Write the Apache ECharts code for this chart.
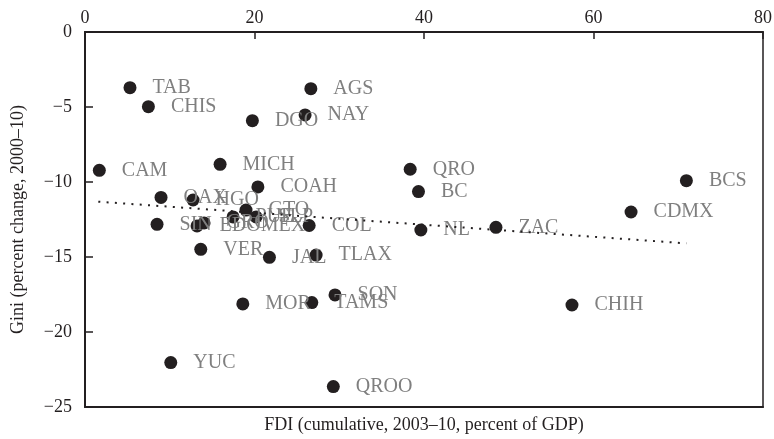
<!DOCTYPE html>
<html>
<head>
<meta charset="utf-8">
<script src="https://cdn.jsdelivr.net/npm/echarts@6/dist/echarts.min.js"></script>
<style>html,body{margin:0;padding:0;background:#fff}#c{width:774px;height:439px}</style>
</head>
<body>
<div id="c"></div>
<script>
var states = ['TAB','CHIS','AGS','NAY','DGO','CAM','MICH','COAH','OAX','HGO','SIN','EDOMEX','GRO','PUE','GTO','SLP','COL','VER','JAL','TLAX','QRO','BC','BCS','CDMX','NL','ZAC','MOR','TAMS','SON','YUC','QROO','CHIH'];
var fdi = [5.31,7.48,26.65,25.97,19.75,1.69,15.94,20.4,8.97,12.75,8.5,13.22,14.05,17.47,19.0,20.19,26.45,13.66,21.76,27.27,38.37,39.35,70.96,64.43,39.63,48.49,18.62,26.76,29.5,10.12,29.3,57.46];
var gini = [-3.71,-4.98,-3.78,-5.53,-5.91,-9.22,-8.82,-10.33,-11.03,-11.2,-12.82,-12.93,-12.73,-12.33,-11.87,-12.33,-12.9,-14.49,-15.02,-14.87,-9.15,-10.64,-9.91,-12.0,-13.2,-13.02,-18.13,-18.04,-17.53,-22.04,-23.64,-18.2];
var trendX = [1.57, 70.96];
var trendY = [-11.31, -14.09];
var xTicks = [0, 20, 40, 60, 80];
var yTicks = [0, -5, -10, -15, -20, -25];

var pts = states.map(function(s, i){ return {name: s, value: [fdi[i], gini[i]]}; });
var trend = trendX.map(function(x, i){ return [x, trendY[i]]; });

var serif = 'Liberation Serif';
var chart = echarts.init(document.getElementById('c'));
chart.setOption({
  animation: false,
  grid: {left: 85, top: 32, right: 11, bottom: 32, containLabel: false, outerBoundsMode: 'none',
    show: true, borderColor: '#231f20', borderWidth: 1.5},
  xAxis: [{
    type: 'value', position: 'top', min: 0, max: 80, interval: 20,
    axisLine: {show: true, lineStyle: {color: '#231f20', width: 2}},
    axisTick: {show: true, inside: true, length: 7, lineStyle: {color: '#231f20', width: 1.5}},
    axisLabel: {fontFamily: serif, fontSize: 18, color: '#231f20', margin: 5},
    splitLine: {show: false}
  }, {
    type: 'value', position: 'bottom', min: 0, max: 80, interval: 20,
    name: 'FDI (cumulative, 2003\u201310, percent of GDP)', nameLocation: 'middle', nameGap: 9,
    nameTextStyle: {fontFamily: serif, fontSize: 18, color: '#231f20'},
    axisLine: {show: true, lineStyle: {color: '#231f20', width: 2}},
    axisTick: {show: false}, axisLabel: {show: false}, splitLine: {show: false}
  }],
  yAxis: {
    type: 'value', min: -25, max: 0, interval: 5,
    name: 'Gini (percent change, 2000\u201310)', nameLocation: 'middle', nameGap: 58, nameRotate: 90,
    nameTextStyle: {fontFamily: serif, fontSize: 18, color: '#231f20'},
    axisLine: {show: true, lineStyle: {color: '#231f20', width: 2}},
    axisTick: {show: true, inside: true, length: 8, lineStyle: {color: '#231f20', width: 1.5}},
    axisLabel: {fontFamily: serif, fontSize: 18, color: '#231f20', margin: 13,
      formatter: function(v){ return v < 0 ? '\u2212' + Math.abs(v) : String(v); }},
    splitLine: {show: false}
  },
  series: [{
    type: 'line', data: trend, symbol: 'none', silent: true,
    lineStyle: {color: '#231f20', width: 2, type: [2, 6.3]}
  }, {
    type: 'scatter', data: pts, symbol: 'circle', symbolSize: 13,
    itemStyle: {color: '#231f20', opacity: 1},
    label: {show: true, position: 'right', distance: 16, offset: [0, 2], formatter: '{b}',
      fontFamily: serif, fontSize: 20, color: '#7f7f7f'},
    labelLayout: {hideOverlap: false}
  }]
});
</script>
</body>
</html>
